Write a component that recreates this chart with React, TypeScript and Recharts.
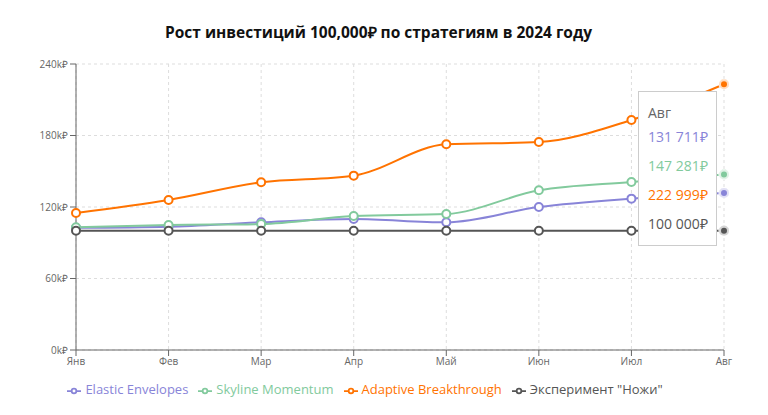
import React from "react";
import { LineChart, Line, XAxis, YAxis, CartesianGrid, Tooltip, Legend } from "recharts";

const months = ["Янв", "Фев", "Мар", "Апр", "Май", "Июн", "Июл", "Авг"];
const elastic = [102500, 103500, 107200, 109900, 107200, 120000, 127000, 131711];
const skyline = [103000, 104900, 105700, 112400, 114100, 134000, 141000, 147281];
const adaptive = [115000, 125900, 140700, 146300, 172600, 174500, 193000, 222999];
const knives = [100000, 100000, 100000, 100000, 100000, 100000, 100000, 100000];
const yTicks = [0, 60000, 120000, 180000, 240000];

const series = [
  { key: "elastic", name: "Elastic Envelopes", color: "#8884d8" },
  { key: "skyline", name: "Skyline Momentum", color: "#82ca9d" },
  { key: "adaptive", name: "Adaptive Breakthrough", color: "#ff7300" },
  { key: "knives", name: 'Эксперимент "Ножи"', color: "#555555" },
];

const data = months.map((m, i) => ({
  month: m,
  elastic: elastic[i],
  skyline: skyline[i],
  adaptive: adaptive[i],
  knives: knives[i],
}));

const fmt = (v: number) => String(v).replace(/\B(?=(\d{3})+(?!\d))/g, " ") + "₽";

const Tip = (props: any) => {
  const { active, payload, label } = props;
  if (!active || !payload || !payload.length) return null;
  return (
    <div
      style={{
        background: "#fff",
        border: "1px solid #ccc",
        padding: "10px 8px 7px 9px",
        fontSize: 14,
        lineHeight: "29px",
      }}
    >
      <div style={{ color: "#666", lineHeight: "22px", marginBottom: -2 }}>{label}</div>
      {payload.map((p: any) => (
        <div key={p.dataKey} style={{ color: p.color }}>
          {fmt(p.value)}
        </div>
      ))}
    </div>
  );
};

const makeActiveDot = (color: string) => (props: any) => {
  const { cx, cy } = props;
  if (cx == null || cy == null) return <g />;
  return (
    <g>
      <circle cx={cx} cy={cy} r={5.5} fill="#fff" />
      <circle cx={cx} cy={cy} r={5} fill={color} fillOpacity={0.25} />
      <circle cx={cx} cy={cy} r={3} fill={color} />
    </g>
  );
};

export default function App() {
  return (
    <div style={{ position: "relative", width: 752, height: 399, fontFamily: "'Open Sans', sans-serif", background: "#fff" }}>
      <div
        style={{
          position: "absolute",
          top: 13,
          left: 0,
          width: 741,
          textAlign: "center",
          fontWeight: 700,
          fontSize: 15.5,
          color: "#111",
        }}
      >
        Рост инвестиций 100,000₽ по стратегиям в 2024 году
      </div>
      <LineChart width={752} height={399} data={data} margin={{ top: 56, right: 36, left: 8, bottom: 9 }}>
        <CartesianGrid strokeDasharray="3 3" stroke="#ddd" />
        <XAxis dataKey="month" tick={{ fontSize: 10, fill: "#666" }} stroke="#666" />
        <YAxis
          width={60}
          domain={[0, 240000]}
          ticks={yTicks}
          tickFormatter={(v: number) => `${v / 1000}k₽`}
          tick={{ fontSize: 10, fill: "#666" }}
          stroke="#666"
        />
        <Tooltip content={<Tip />} defaultIndex={7} cursor={false} position={{ x: 630, y: 83 }} />
        <Legend wrapperStyle={{ fontSize: 13 }} itemSorter={null as any} />
        {series.map((s) => (
          <Line
            key={s.key}
            type="monotone"
            dataKey={s.key}
            name={s.name}
            stroke={s.color}
            strokeWidth={2}
            dot={{ r: 4, strokeWidth: 2, fill: "#fff" }}
            activeDot={makeActiveDot(s.color)}
            isAnimationActive={false}
          />
        ))}
      </LineChart>
    </div>
  );
}
